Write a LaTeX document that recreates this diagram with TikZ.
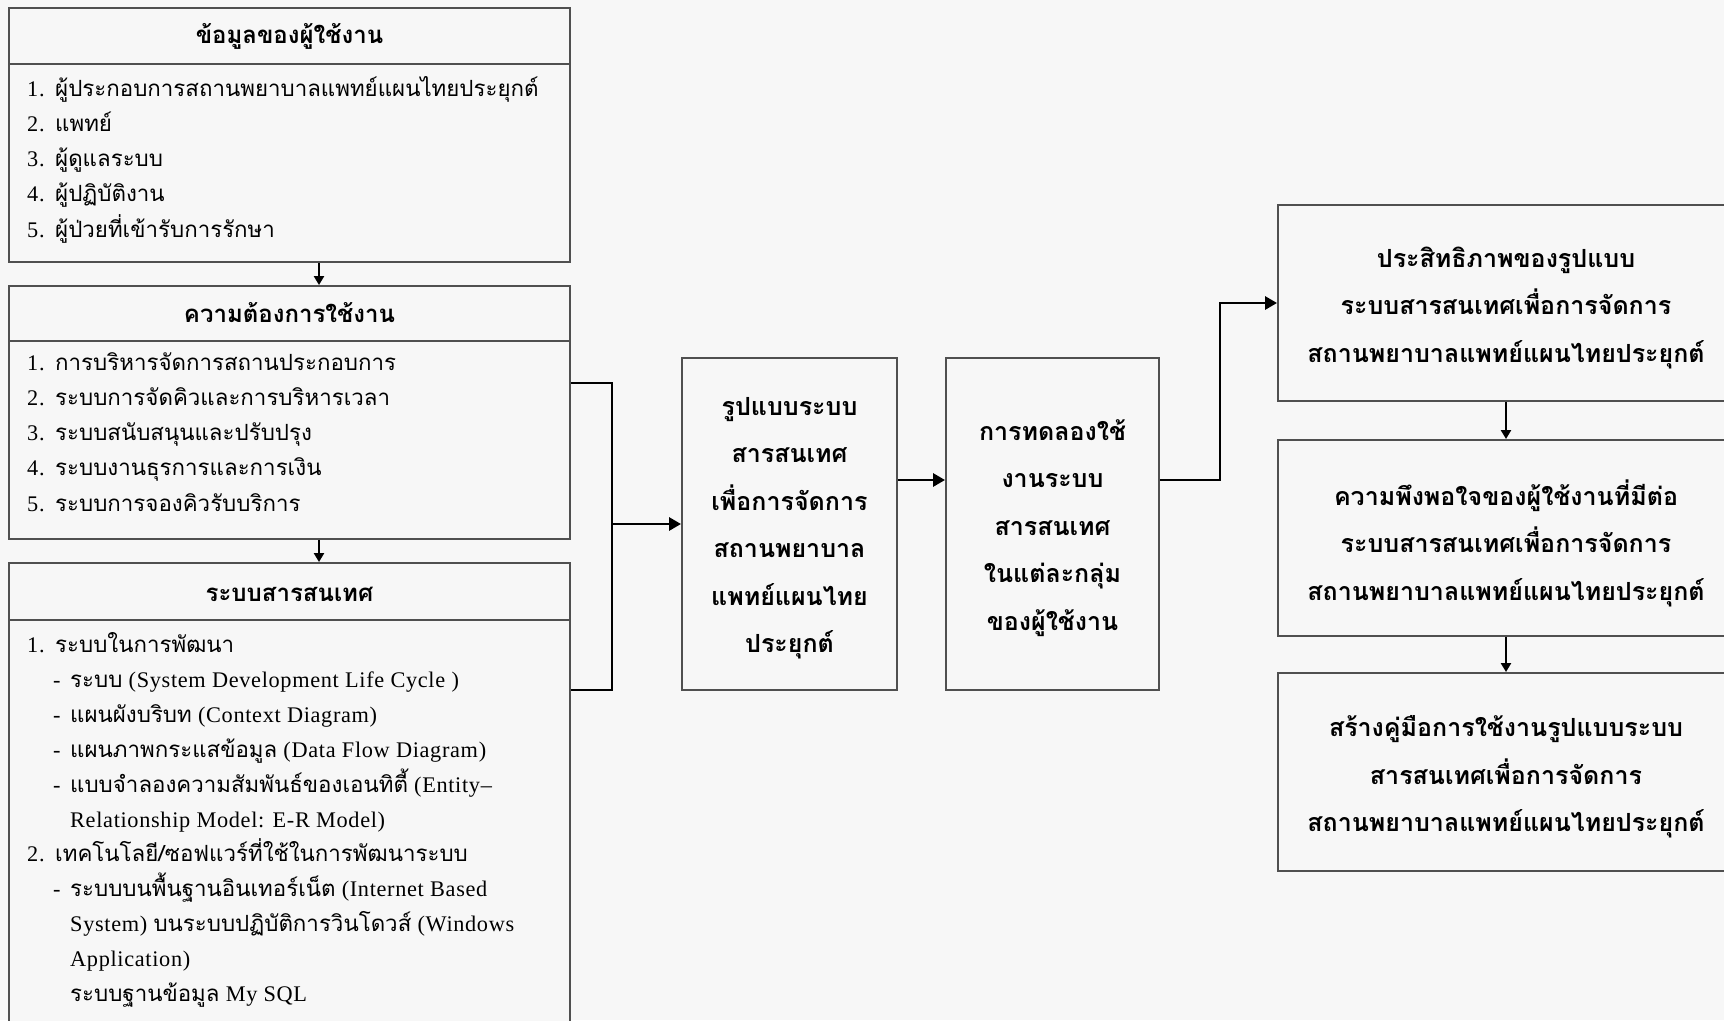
\documentclass[tikz,border=0pt]{standalone}
\usepackage{fontspec}
\setmainfont{Liberation Serif}
\newfontfamily\lat[LetterSpace=3]{Liberation Serif}
\newfontfamily\thai[Script=Thai]{Loma}
\usetikzlibrary{arrows.meta}
\definecolor{paper}{RGB}{247,247,247}
\definecolor{edge}{RGB}{80,80,80}
\begin{document}
\begin{tikzpicture}[x=1pt,y=-1pt,
  frame/.style={draw=edge, line width=1.9pt, fill=paper, inner sep=0pt},
  rule/.style={draw=edge, line width=1.9pt},
  conn/.style={draw=black, line width=2.8pt},
  tip/.style={-{Triangle[length=12pt,width=13pt]}},
  smalltip/.style={-{Triangle[length=9pt,width=10pt]}},
  item/.style={anchor=base west, inner sep=0pt, font=\lat\fontsize{22.3}{24}\selectfont},
  head/.style={inner sep=0pt, font=\thai\bfseries\fontsize{24}{28}\selectfont},
  body/.style={align=center, inner sep=0pt, yshift=-4pt, font=\thai\bfseries\fontsize{25}{47.5}\selectfont},
]
\fill[paper] (0,0) rectangle (1724,1020);
\useasboundingbox (0,0) rectangle (1724,1020);
\clip (0,0) rectangle (1724,1020);

% ---- left column: three framed lists ----
\node[frame, minimum width=561pt, minimum height=254pt] (b1) at (289.5,135) {};
\node[frame, minimum width=561pt, minimum height=253pt] (b2) at (289.5,412.5) {};
\node[frame, minimum width=561pt, minimum height=477pt] (b3) at (289.5,801.5) {};
\draw[rule] (b1.west |- 0,64) -- (b1.east |- 0,64);
\draw[rule] (b2.west |- 0,341) -- (b2.east |- 0,341);
\draw[rule] (b3.west |- 0,620) -- (b3.east |- 0,620);

\node[head] (h1) at (289.5,36) {ข้อมูลของผู้ใช้งาน};
\node[head] (h2) at (289.5,313) {ความต้องการใช้งาน};
\node[head] (h3) at (289.5,594) {ระบบสารสนเทศ};

% list of users
\foreach \t [count=\i] in {{ผู้ประกอบการสถานพยาบาลแพทย์แผนไทยประยุกต์},{แพทย์},{ผู้ดูแลระบบ},{ผู้ปฏิบัติงาน},{ผู้ป่วยที่เข้ารับการรักษา}}{
  \node[item] (n1\i) at (27,{96+35.3*(\i-1)}) {\i.};
  \node[item] (t1\i) at (55,{96+35.3*(\i-1)}) {\thai\t};
}
% list of requirements
\foreach \t [count=\i] in {{การบริหารจัดการสถานประกอบการ},{ระบบการจัดคิวและการบริหารเวลา},{ระบบสนับสนุนและปรับปรุง},{ระบบงานธุรการและการเงิน},{ระบบการจองคิวรับบริการ}}{
  \node[item] (n2\i) at (27,{370+35.3*(\i-1)}) {\i.};
  \node[item] (t2\i) at (55,{370+35.3*(\i-1)}) {\thai\t};
}
% information system details
\node[item] (n31) at (27,652.5) {1.};
\node[item] (t31) at (55,652.5) {\thai ระบบในการพัฒนา};
\node[item] (d32) at (53,687.4) {-};
\node[item] (t32) at (70,687.4) {{\thai ระบบ} (System Development Life Cycle )};
\node[item] (d33) at (53,722.3) {-};
\node[item] (t33) at (70,722.3) {{\thai แผนผังบริบท} (Context Diagram)};
\node[item] (d34) at (53,757.2) {-};
\node[item] (t34) at (70,757.2) {{\thai แผนภาพกระแสข้อมูล} (Data Flow Diagram)};
\node[item] (d35) at (53,792.1) {-};
\node[item] (t35) at (70,792.1) {{\thai แบบจำลองความสัมพันธ์ของเอนทิตี้} (Entity–};
\node[item] (t36) at (70,827) {Relationship Model: E-R Model)};
\node[item] (n37) at (27,861.9) {2.};
\node[item] (t37) at (55,861.9) {\thai เทคโนโลยี/ซอฟแวร์ที่ใช้ในการพัฒนาระบบ};
\node[item] (d38) at (53,896.8) {-};
\node[item] (t38) at (70,896.8) {{\thai ระบบบนพื้นฐานอินเทอร์เน็ต} (Internet Based};
\node[item] (t39) at (70,931.7) {System) {\thai บนระบบปฏิบัติการวินโดวส์} (Windows};
\node[item] (t310) at (70,966.6) {Application)};
\node[item] (t311) at (70,1001.5) {{\thai ระบบฐานข้อมูล} My SQL};

% ---- middle boxes ----
\node[frame, minimum width=215pt, minimum height=332pt] (m1) at (789.5,524) {};
\node[frame, minimum width=213pt, minimum height=332pt] (m2) at (1052.5,524) {};
\node[body] (m1t) at (m1.center) {รูปแบบระบบ\\สารสนเทศ\\เพื่อการจัดการ\\สถานพยาบาล\\แพทย์แผนไทย\\ประยุกต์};
\node[body] (m2t) at (m2.center) {การทดลองใช้\\งานระบบ\\สารสนเทศ\\ในแต่ละกลุ่ม\\ของผู้ใช้งาน};

% ---- right column ----
\node[frame, minimum width=462pt, minimum height=196pt] (r1) at (1509,303) {};
\node[frame, minimum width=462pt, minimum height=196pt] (r2) at (1509,538) {};
\node[frame, minimum width=462pt, minimum height=198pt] (r3) at (1509,772) {};
\node[body] (r1t) at (1506,304) {ประสิทธิภาพของรูปแบบ\\ระบบสารสนเทศเพื่อการจัดการ\\สถานพยาบาลแพทย์แผนไทยประยุกต์};
\node[body] (r2t) at (1506,539) {ความพึงพอใจของผู้ใช้งานที่มีต่อ\\ระบบสารสนเทศเพื่อการจัดการ\\สถานพยาบาลแพทย์แผนไทยประยุกต์};
\node[body] (r3t) at (1506,773) {สร้างคู่มือการใช้งานรูปแบบระบบ\\สารสนเทศเพื่อการจัดการ\\สถานพยาบาลแพทย์แผนไทยประยุกต์};

% ---- connectors ----
\coordinate (ax) at (319,0);
\coordinate (rx) at (1506,0);
\coordinate (jt) at (612,383);
\coordinate (jb) at (612,690);
\coordinate (jm) at (612,524);
\coordinate (ym) at (0,480);
\coordinate (kx) at (1220,0);

\draw[conn, smalltip] (b1.south -| ax) -- (b2.north -| ax);
\draw[conn, smalltip] (b2.south -| ax) -- (b3.north -| ax);
\draw[conn] (b2.east |- jt) -- (jt) -- (jb) -- (b3.east |- jb);
\draw[conn, tip] (jm) -- (m1.west);
\draw[conn, tip] (m1.east |- ym) -- (m2.west |- ym);
\draw[conn, tip] (m2.east |- ym) -| (kx |- r1.west) -- (r1.west);
\draw[conn, smalltip] (r1.south -| rx) -- (r2.north -| rx);
\draw[conn, smalltip] (r2.south -| rx) -- (r3.north -| rx);
\end{tikzpicture}
\end{document}
